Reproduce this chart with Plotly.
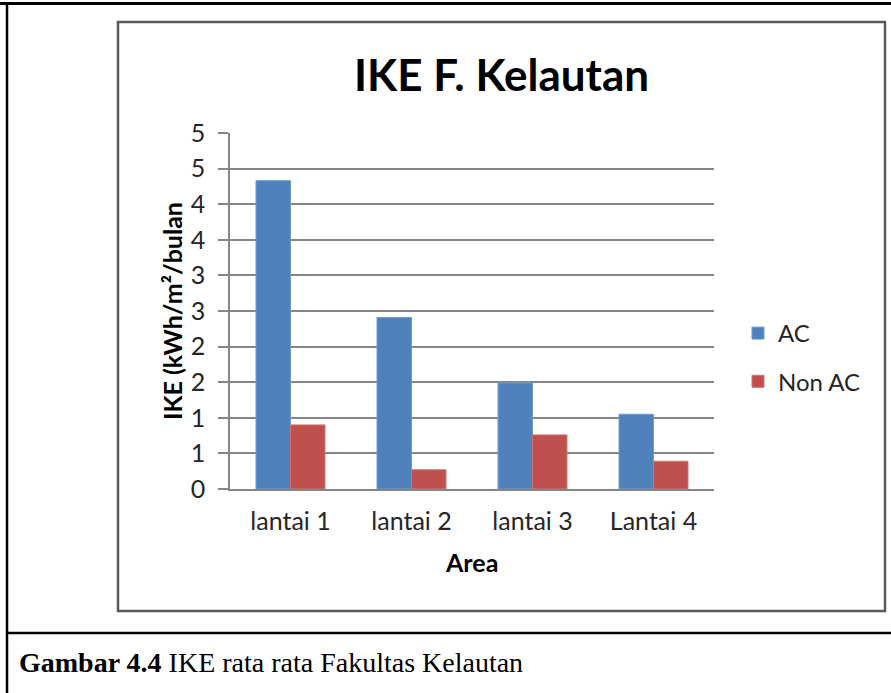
import plotly.graph_objects as go

categories = ["lantai 1", "lantai 2", "lantai 3", "Lantai 4"]
ac_values = [4.33, 2.41, 1.49, 1.05]
non_ac_values = [0.90, 0.27, 0.76, 0.39]
y_tickvals = [0, 0.5, 1, 1.5, 2, 2.5, 3, 3.5, 4, 4.5, 5]
y_ticktext = ["0", "1", "1", "2", "2", "3", "3", "4", "4", "5", "5"]

W, H = 891, 693
def px(x):
    return x / W
def py(y):
    return 1 - y / H

FONT = "Lato"

fig = go.Figure()
fig.add_trace(go.Bar(name="AC", x=categories, y=ac_values,
                     marker=dict(color="#4F81BD", line=dict(color="#6F9AD0", width=1)),
                     legendgroup="a"))
fig.add_trace(go.Bar(name="Non AC", x=categories, y=non_ac_values,
                     marker=dict(color="#C0504D", line=dict(color="#D07572", width=1)),
                     legendgroup="b"))

fig.update_layout(
    template="none",
    width=W, height=H, autosize=False,
    margin=dict(l=0, r=0, t=0, b=0, pad=0, autoexpand=False),
    paper_bgcolor="white", plot_bgcolor="white",
    barmode="group", bargap=0.43, bargroupgap=0,
    font=dict(family=FONT, color="#262626"),
    showlegend=True,
    legend=dict(x=px(738), y=py(311), xanchor="left", yanchor="top",
                font=dict(family=FONT, size=24, color="#262626"),
                tracegroupgap=14, itemwidth=30, bgcolor="rgba(0,0,0,0)",
                borderwidth=0),
    xaxis=dict(domain=[px(230), px(714)], range=[-0.5, 3.5], automargin=False,
               showline=True, linecolor="#868686", linewidth=1.5,
               ticks="", ticklabelstandoff=9,
               tickfont=dict(family=FONT, size=25, color="#262626"),
               showgrid=False, zeroline=False, fixedrange=True),
    yaxis=dict(domain=[py(489), py(133)], range=[0, 5], automargin=False,
               tickvals=y_tickvals, ticktext=y_ticktext,
               showline=True, linecolor="#868686", linewidth=1.5,
               ticks="outside", ticklen=10, tickcolor="#868686", tickwidth=1.5,
               ticklabelstandoff=8,
               tickfont=dict(family=FONT, size=25, color="#262626"),
               showgrid=True, gridcolor="#868686", gridwidth=1.5,
               zeroline=False, fixedrange=True),
)

shapes = [
    dict(type="line", xref="paper", yref="paper", x0=0, x1=1, y0=py(3.5), y1=py(3.5),
         line=dict(color="black", width=3)),
    dict(type="line", xref="paper", yref="paper", x0=px(7), x1=px(7), y0=py(3), y1=0,
         line=dict(color="black", width=2.5)),
    dict(type="line", xref="paper", yref="paper", x0=px(7), x1=1, y0=py(633), y1=py(633),
         line=dict(color="black", width=2.5)),
    dict(type="rect", xref="paper", yref="paper", x0=px(118), x1=px(885), y0=py(611), y1=py(22),
         line=dict(color="#595959", width=2.5)),
]
fig.update_layout(shapes=shapes)

annotations = [
    dict(text="<b>IKE F. Kelautan</b>", x=px(501), y=py(74), xref="paper", yref="paper",
         showarrow=False, font=dict(family=FONT, size=44, color="black"),
         xanchor="center", yanchor="middle"),
    dict(text="<b>IKE (kWh/m²/bulan</b>", x=px(172), y=py(311), xref="paper", yref="paper",
         showarrow=False, textangle=-90, font=dict(family=FONT, size=25, color="black"),
         xanchor="center", yanchor="middle"),
    dict(text="<b>Area</b>", x=px(471), y=py(562), xref="paper", yref="paper",
         showarrow=False, font=dict(family=FONT, size=25, color="black"),
         xanchor="center", yanchor="middle"),
    dict(text="<b>Gambar 4.4</b> IKE rata rata Fakultas Kelautan", x=px(17), y=py(662),
         xref="paper", yref="paper", showarrow=False,
         font=dict(family="Liberation Serif", size=28, color="black"),
         xanchor="left", yanchor="middle"),
]
fig.update_layout(annotations=annotations)

fig.write_html(
    "out.html",
    config={"displayModeBar": False},
    post_script="document.body.style.margin='0';document.body.style.overflow='hidden';",
)
